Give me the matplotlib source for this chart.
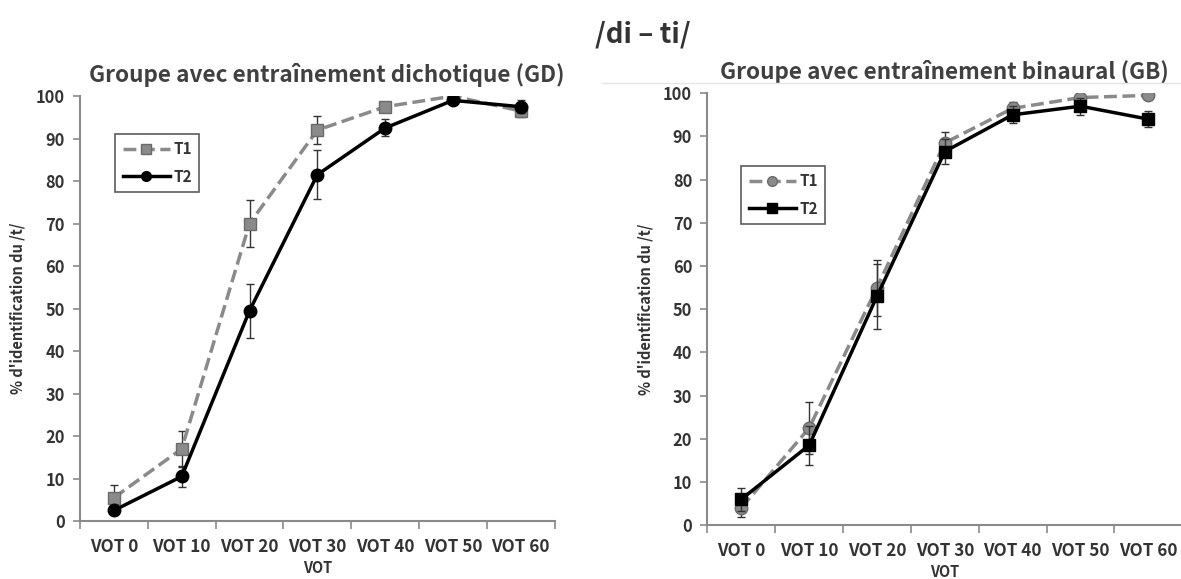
import numpy as np
import matplotlib
matplotlib.use("Agg")
import matplotlib.pyplot as plt
from matplotlib.lines import Line2D

plt.rcParams['font.family'] = ['Noto Sans CJK SC', 'DejaVu Sans']
plt.rcParams['font.weight'] = 'bold'

categories = ["VOT 0", "VOT 10", "VOT 20", "VOT 30", "VOT 40", "VOT 50", "VOT 60"]

# Groupe dichotique (GD)
gd_t1 = [5.5, 17, 70, 92, 97.5, 100, 96.5]
gd_t1_err = [3, 4.2, 5.5, 3.3, 1, 0.5, 1.5]
gd_t2 = [2.5, 10.5, 49.5, 81.5, 92.5, 99, 97.5]
gd_t2_err = [1, 2.4, 6.3, 5.8, 2, 0.8, 1.5]

# Groupe binaural (GB)
gb_t1 = [4, 22.5, 55, 88.5, 96.5, 99, 99.5]
gb_t1_err = [2, 6, 6.5, 2.5, 1.5, 1, 0.3]
gb_t2 = [6, 18.5, 53, 86.5, 95, 97, 94]
gb_t2_err = [2.7, 4.5, 7.5, 3, 2, 2, 1.8]

text_col = "#333333"
grey = "#8a8a8a"


def draw_panel(ax, t1, t1_err, t2, t2_err, t1_marker, t2_marker, title, title_x, leg_pos):
	x = np.arange(len(categories))
	ax.errorbar(x, t1, yerr=t1_err, color=grey, ls="--", lw=2.5, marker=t1_marker,
				ms=9, mfc=grey, mec="#6a6a6a", ecolor="#333333", elinewidth=1,
				capsize=3, zorder=3)
	ax.errorbar(x, t2, yerr=t2_err, color="black", ls="-", lw=2.5, marker=t2_marker,
				ms=9, mfc="black", mec="black", ecolor="#333333", elinewidth=1,
				capsize=3, zorder=4)

	ax.set_xlim(-0.5, len(categories) - 0.5)
	ax.set_ylim(0, 100)
	ax.set_yticks(range(0, 101, 10))
	ax.set_xticks(x)
	ax.set_xticklabels(categories, fontweight="bold")
	ax.set_xticks(np.arange(-0.5, len(categories)), minor=True)
	ax.tick_params(axis="x", which="major", length=0, pad=12, labelsize=12.3,
				   labelcolor=text_col)
	ax.tick_params(axis="x", which="minor", length=6, width=1.2, color=grey)
	ax.tick_params(axis="y", length=5, width=1.2, color=grey, labelsize=11.8,
				   labelcolor=text_col, pad=6)

	for side in ["top", "right"]:
		ax.spines[side].set_visible(False)
	for side in ["left", "bottom"]:
		ax.spines[side].set_color(grey)
		ax.spines[side].set_linewidth(1.5)

	ax.set_xlabel("VOT", fontsize=10.5, fontweight="bold", color=text_col, labelpad=3)
	ax.set_ylabel("% d'identification du /t/", fontsize=10.5, fontweight="bold",
				  color=text_col, labelpad=7)
	ax.set_title(title, x=title_x, fontsize=16.2, fontweight="bold", color="#404040", pad=10)

	handles = [
		Line2D([], [], color=grey, ls="--", lw=2.5, marker=t1_marker, ms=7,
			   mfc=grey, mec="#6a6a6a"),
		Line2D([], [], color="black", ls="-", lw=2.5, marker=t2_marker, ms=7,
			   mfc="black", mec="black"),
	]
	leg = ax.legend(handles, ["T1", "T2"], loc="upper left", bbox_to_anchor=leg_pos,
					frameon=True, fancybox=False, edgecolor="#333333",
					handlelength=3.1, handletextpad=0.2, borderpad=0.5,
					labelspacing=0.75, prop={"weight": "bold", "size": 11})
	leg.get_frame().set_linewidth(1.2)
	for t in leg.get_texts():
		t.set_color(text_col)


fig = plt.figure(figsize=(11.81, 5.79), dpi=100)

ax1 = fig.add_axes([0.0677, 0.100, 0.402, 0.734])
draw_panel(ax1, gd_t1, gd_t1_err, gd_t2, gd_t2_err, "s", "o",
		   "Groupe avec entraînement dichotique (GD)", 0.52, (0.058, 0.93))

ax2 = fig.add_axes([0.599, 0.093, 0.402, 0.746])
draw_panel(ax2, gb_t1, gb_t1_err, gb_t2, gb_t2_err, "o", "s",
		   "Groupe avec entraînement binaural (GB)", 0.5, (0.055, 0.85))

# faint frame line above the right panel
fig.add_artist(Line2D([0.51, 1.0], [0.857, 0.857], color="#e6e6e6", lw=1))

fig.text(0.544, 0.941, "/di \u2013 ti/", ha="center", va="center", fontsize=20,
		 fontweight="bold", color=text_col)

fig.savefig("out.png", dpi=100)
